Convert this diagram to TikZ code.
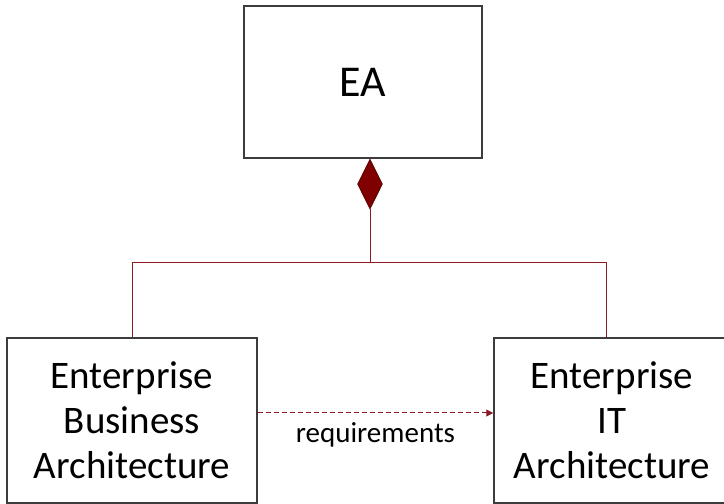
\documentclass[tikz,border=0pt]{standalone}
\usepackage{fontspec}
\setmainfont{Carlito}
\usetikzlibrary{arrows.meta,shapes.geometric,positioning}
\definecolor{linkred}{RGB}{140,25,35}
\definecolor{diafill}{RGB}{128,0,0}
\definecolor{boxline}{RGB}{60,60,60}
\tikzset{
  archbox/.style={draw=boxline, line width=1.5pt, align=center, inner sep=0pt,
    minimum height=165pt, font=\fontsize{39}{45}\selectfont},
  assoc/.style={draw=linkred, line width=1pt},
}
\begin{document}
\begin{tikzpicture}[x=1pt, y=1pt]
  \useasboundingbox (0,0) rectangle (724,504);
  \node[archbox, minimum width=238pt, minimum height=152pt,
    font=\fontsize{44}{50}\selectfont] (ea) at (363,422) {EA};
  \node[archbox, minimum width=250pt] (eba) at (132,83.5)
    {Enterprise\\Business\\Architecture};
  \node[archbox, minimum width=236pt] (ita) at (612,83.5)
    {Enterprise\\IT\\Architecture};
  \node[diamond, draw=diafill!60!black, line width=.6pt, fill=diafill,
    inner sep=0pt, aspect=.5, minimum width=25pt, minimum height=50pt,
    anchor=north] (comp) at ([xshift=7pt]ea.south) {};
  \coordinate (bar) at ([yshift=-53pt]comp.south);
  \draw[assoc] (comp.south) -- (bar);
  \draw[assoc] (eba.north) |- (bar) -| ([xshift=-6pt]ita.north);
  \draw[assoc, dash pattern=on 5pt off 3pt,
    -{Triangle[length=7pt, width=7pt, fill=linkred]}]
    ([yshift=7.5pt]eba.east) -- ([yshift=7.5pt]ita.west)
    node[midway, below=6pt, text=black, font=\fontsize{29}{34}\selectfont] (req) {requirements};
\end{tikzpicture}
\end{document}
